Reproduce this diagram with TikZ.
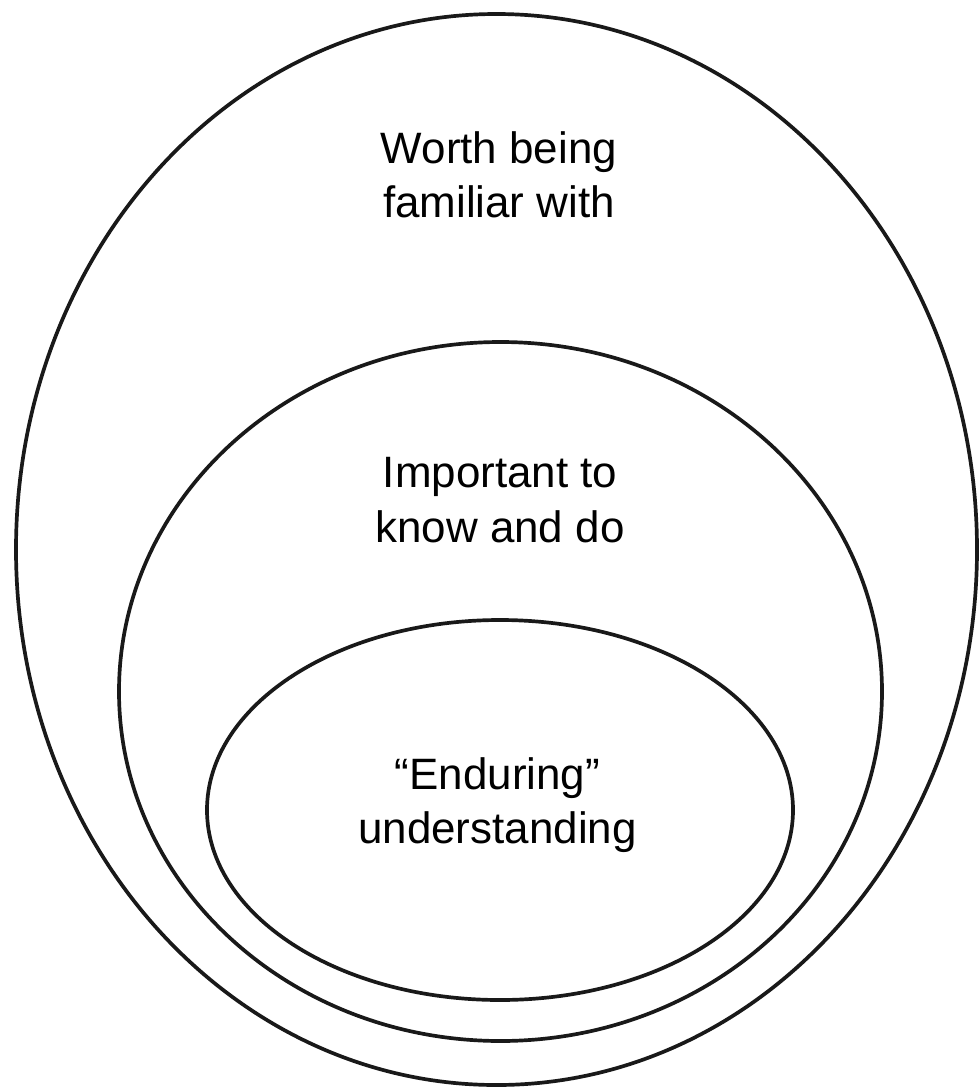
\documentclass[tikz,border=0pt]{standalone}
\usepackage{fontspec}
\setmainfont{Liberation Sans}
\tikzset{
  anello/.style={line width=2.1pt, black!90},
  etichetta/.style={align=center, font=\fontsize{25}{31}\selectfont, inner sep=0pt}
}
\begin{document}
\begin{tikzpicture}
        \useasboundingbox (0,0) rectangle (19.58,-21.76);

        %disegno ellissi
        \draw[anello] (9.93,-10.99) ellipse [x radius=9.61cm, y radius=10.71cm];
        \draw[anello] (10.01,-13.83) ellipse [x radius=7.63cm, y radius=6.99cm];
        \draw[anello] (10.0,-16.2) ellipse [x radius=5.86cm, y radius=3.8cm];

        %testi
        \node[etichetta] (familiar) at (9.98,-3.5) {Worth being\\familiar with};
        \node[etichetta] (important) at (10.0,-10.0) {Important to\\know and do};
        \node[etichetta] (enduring) at (9.95,-16.1) {“Enduring”\\understanding};
\end{tikzpicture}
\end{document}
